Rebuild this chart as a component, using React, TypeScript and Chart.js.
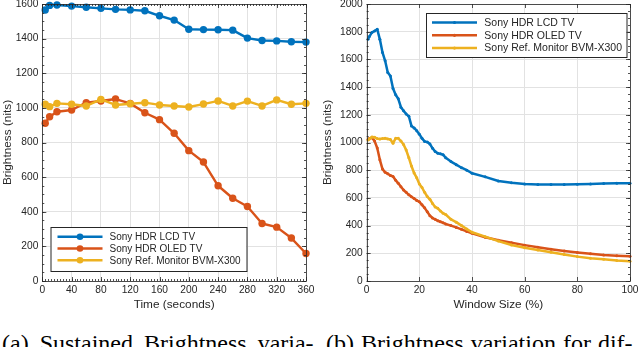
import React, { useEffect, useRef } from "react";
import { Chart, registerables } from "chart.js";

Chart.register(...registerables);

// ---------- data ----------
const seriesLabels = ["Sony HDR LCD TV", "Sony HDR OLED TV", "Sony Ref. Monitor BVM-X300"];
const seriesColors = ["#0072BD", "#D95319", "#EDB120"];

// (a) sustained brightness over time
const timeSec = [4, 10, 20, 40, 60, 80, 100, 120, 140, 160, 180, 200, 220, 240, 260, 280, 300, 320, 340, 360];
const lcdSustained = [1565, 1592, 1594, 1588, 1581, 1575, 1569, 1566, 1561, 1532, 1507, 1454, 1452, 1451, 1449, 1403, 1389, 1387, 1382, 1380];
const oledSustained = [911, 949, 978, 988, 1030, 1040, 1051, 1026, 972, 932, 853, 753, 687, 550, 478, 430, 332, 311, 248, 159];
const refSustained = [1021, 1007, 1026, 1021, 1011, 1049, 1017, 1024, 1030, 1017, 1011, 1005, 1022, 1040, 1011, 1039, 1011, 1046, 1021, 1026];

// (b) brightness vs window size
const windowPct = [0.5, 1, 2, 3, 4, 5, 6, 7, 8, 9, 10, 11, 12, 13, 14, 15, 16, 17, 18, 19, 20, 21, 22, 23, 24, 25, 26, 27, 28, 29, 30, 32, 34, 36, 38, 40, 45, 50, 55, 60, 65, 70, 75, 80, 85, 90, 95, 100];
const lcdWindow = [1745, 1765, 1795, 1805, 1818, 1745, 1650, 1590, 1505, 1480, 1390, 1345, 1315, 1255, 1230, 1205, 1190, 1120, 1105, 1085, 1060, 1030, 1008, 1003, 990, 958, 935, 922, 918, 912, 890, 862, 840, 818, 800, 778, 752, 722, 710, 701, 697, 696, 696, 698, 700, 704, 705, 705];
const oledWindow = [1022, 1028, 1035, 1010, 960, 875, 808, 785, 775, 762, 755, 728, 705, 680, 657, 640, 622, 608, 595, 582, 572, 550, 528, 500, 472, 455, 445, 435, 428, 420, 412, 400, 387, 373, 358, 345, 316, 294, 276, 259, 243, 229, 217, 206, 196, 188, 183, 178];
const refWindow = [1018, 1025, 1040, 1038, 1028, 1025, 1028, 1030, 1026, 1022, 995, 1030, 1030, 1010, 985, 945, 890, 830, 780, 745, 700, 675, 640, 610, 590, 560, 535, 525, 505, 490, 480, 445, 425, 400, 375, 352, 320, 288, 260, 240, 224, 207, 192, 176, 165, 157, 148, 142];

// tick labels
const timeTicks = [0, 40, 80, 120, 160, 200, 240, 280, 320, 360];
const brightnessTicksA = [0, 200, 400, 600, 800, 1000, 1200, 1400, 1600];
const windowTicks = [0, 20, 40, 60, 80, 100];
const brightnessTicksB = [0, 200, 400, 600, 800, 1000, 1200, 1400, 1600, 1800, 2000];

const AXIS_COLOR = "#262626";
const FONT = "'Liberation Sans', Arial, Helvetica, sans-serif";

// ---------- plugins ----------
const matlabAxes = {
  id: "matlabAxes",
  afterDatasetsDraw(chart: any, _args: any, o: any) {
    const { ctx, chartArea: a, scales } = chart;
    const xs = scales.x;
    const ys = scales.y;
    ctx.save();
    ctx.strokeStyle = AXIS_COLOR;
    ctx.lineWidth = 0.8;
    const seg = (x1: number, y1: number, x2: number, y2: number) => {
      ctx.beginPath();
      ctx.moveTo(x1, y1);
      ctx.lineTo(x2, y2);
      ctx.stroke();
    };
    const xTick = (v: number, len: number) => {
      const p = Math.round(xs.getPixelForValue(v)) + 0.5;
      seg(p, a.bottom, p, a.bottom - len);
      seg(p, a.top, p, a.top + len);
    };
    const yTick = (v: number, len: number) => {
      const p = Math.round(ys.getPixelForValue(v)) + 0.5;
      seg(a.left, p, a.left + len, p);
      seg(a.right, p, a.right - len, p);
    };
    if (o.xMinorStep) {
      for (let v = xs.min; v <= xs.max + 1e-9; v += o.xMinorStep) xTick(v, 2);
    }
    if (o.yMinorStep) {
      for (let v = ys.min; v <= ys.max + 1e-9; v += o.yMinorStep) yTick(v, 2);
    }
    xs.ticks.forEach((t: any) => xTick(t.value, 4));
    ys.ticks.forEach((t: any) => yTick(t.value, 4));
    ctx.strokeRect(Math.round(a.left) + 0.5, Math.round(a.top) + 0.5, Math.round(a.right - a.left), Math.round(a.bottom - a.top));
    ctx.restore();
  },
};

const boxLegend = {
  id: "boxLegend",
  afterDraw(chart: any, _args: any, o: any) {
    const ctx = chart.ctx;
    ctx.save();
    ctx.fillStyle = "#ffffff";
    ctx.fillRect(o.x, o.y, o.w, o.h);
    ctx.strokeStyle = AXIS_COLOR;
    ctx.lineWidth = 1;
    ctx.strokeRect(o.x + 0.5, o.y + 0.5, o.w, o.h);
    chart.data.datasets.forEach((ds: any, i: number) => {
      const cy = o.y + o.firstRow + i * o.rowH;
      ctx.strokeStyle = ds.borderColor;
      ctx.lineWidth = ds.borderWidth;
      ctx.beginPath();
      ctx.moveTo(o.x + o.lineX0, cy);
      ctx.lineTo(o.x + o.lineX1, cy);
      ctx.stroke();
      ctx.fillStyle = ds.borderColor;
      ctx.beginPath();
      ctx.arc(o.x + (o.lineX0 + o.lineX1) / 2, cy, o.markerR, 0, Math.PI * 2);
      ctx.fill();
      ctx.fillStyle = AXIS_COLOR;
      ctx.font = `${o.fontSize}px ${FONT}`;
      ctx.textBaseline = "middle";
      ctx.textAlign = "left";
      ctx.fillText(ds.label, o.x + o.textX, cy + 0.5);
    });
    ctx.restore();
  },
};

// ---------- chart builder ----------
function makeConfig(p: {
  xs: number[];
  series: number[][];
  xTicks: number[];
  yTicks: number[];
  xTitle: string;
  yWidth: number;
  rightPad: number;
  lineWidth: number;
  pointR: number;
  xMinorStep: number;
  yMinorStep: number;
  legend: any;
}) {
  const datasets = p.series.map((vals, i) => ({
    label: seriesLabels[i],
    data: vals.map((v, j) => ({ x: p.xs[j], y: v })),
    borderColor: seriesColors[i],
    backgroundColor: seriesColors[i],
    pointBackgroundColor: seriesColors[i],
    pointBorderColor: seriesColors[i],
    pointBorderWidth: 0,
    pointRadius: p.pointR,
    borderWidth: p.lineWidth,
    borderJoinStyle: "round",
    tension: 0,
    clip: false,
    order: 3 - i,
  }));
  const tickFont = { family: FONT, size: 10.2 };
  const titleFont = { family: FONT, size: 11.8 };
  return {
    type: "line",
    data: { datasets },
    plugins: [matlabAxes, boxLegend],
    options: {
      responsive: false,
      animation: false,
      devicePixelRatio: 1,
      layout: { padding: { left: 0, right: p.rightPad, top: 4, bottom: 0 } },
      plugins: {
        legend: { display: false },
        tooltip: { enabled: false },
        matlabAxes: { xMinorStep: p.xMinorStep, yMinorStep: p.yMinorStep },
        boxLegend: p.legend,
      },
      scales: {
        x: {
          type: "linear",
          min: p.xTicks[0],
          max: p.xTicks[p.xTicks.length - 1],
          afterBuildTicks: (s: any) => {
            s.ticks = p.xTicks.map((v) => ({ value: v }));
          },
          afterFit: (s: any) => {
            s.height = 39;
            s.paddingLeft = 0;
            s.paddingRight = 0;
          },
          ticks: {
            autoSkip: false,
            maxRotation: 0,
            padding: 3,
            color: AXIS_COLOR,
            font: tickFont,
            callback: (v: any) => String(v),
          },
          grid: { color: "#e2e2e2", lineWidth: 1, drawTicks: false },
          border: { display: false },
          title: {
            display: true,
            text: p.xTitle,
            color: AXIS_COLOR,
            font: titleFont,
            padding: { top: 0, bottom: 8 },
          },
        },
        y: {
          type: "linear",
          min: p.yTicks[0],
          max: p.yTicks[p.yTicks.length - 1],
          afterBuildTicks: (s: any) => {
            s.ticks = p.yTicks.map((v) => ({ value: v }));
          },
          afterFit: (s: any) => {
            s.width = p.yWidth;
            s.paddingTop = 0;
            s.paddingBottom = 0;
          },
          ticks: {
            autoSkip: false,
            padding: 4,
            color: AXIS_COLOR,
            font: tickFont,
            callback: (v: any) => String(v),
          },
          grid: { color: "#e2e2e2", lineWidth: 1, drawTicks: false },
          border: { display: false },
          title: {
            display: true,
            text: "Brightness (nits)",
            color: AXIS_COLOR,
            font: titleFont,
            padding: { top: 1, bottom: 0 },
          },
        },
      },
    },
  };
}

function ChartCanvas({ config, left }: { config: any; left: number }) {
  const ref = useRef<HTMLCanvasElement | null>(null);
  useEffect(() => {
    if (!ref.current) return;
    const chart = new Chart(ref.current, config);
    return () => chart.destroy();
  }, [config]);
  return (
    <canvas
      ref={ref}
      width={320}
      height={320}
      style={{ position: "absolute", left, top: 0, width: 320, height: 320 }}
    />
  );
}

const configA = makeConfig({
  xs: timeSec,
  series: [lcdSustained, oledSustained, refSustained],
  xTicks: timeTicks,
  yTicks: brightnessTicksA,
  xTitle: "Time (seconds)",
  yWidth: 42.3,
  rightPad: 14,
  lineWidth: 2.4,
  pointR: 3.7,
  xMinorStep: 4,
  yMinorStep: 50,
  legend: { x: 50.5, y: 227, w: 196, h: 44, firstRow: 9.7, rowH: 11.8, lineX0: 7, lineX1: 52, textX: 59, markerR: 3.3, fontSize: 10 },
});

const configB = makeConfig({
  xs: windowPct,
  series: [lcdWindow, oledWindow, refWindow],
  xTicks: windowTicks,
  yTicks: brightnessTicksB,
  xTitle: "Window Size (%)",
  yWidth: 46.7,
  rightPad: 10,
  lineWidth: 2.5,
  pointR: 1.5,
  xMinorStep: 0,
  yMinorStep: 50,
  legend: { x: 106, y: 13, w: 200.5, h: 44, firstRow: 9.5, rowH: 12.8, lineX0: 6, lineX1: 51, textX: 58.3, markerR: 1.6, fontSize: 10.5 },
});

const captionStyle: React.CSSProperties = {
  position: "absolute",
  top: 330.5,
  fontFamily: "'Liberation Serif', 'Times New Roman', serif",
  fontSize: 24,
  lineHeight: "24px",
  whiteSpace: "nowrap",
  color: "#000",
};

export default function App() {
  return (
    <div
      style={{
        position: "fixed",
        left: 0,
        top: 0,
        width: 640,
        height: 347,
        background: "#fff",
        overflow: "hidden",
      }}
    >
      <ChartCanvas config={configA} left={0} />
      <ChartCanvas config={configB} left={320} />
      <div style={{ ...captionStyle, left: 2, wordSpacing: 5 }}>(a) Sustained Brightness varia-</div>
      <div style={{ ...captionStyle, left: 326, wordSpacing: 1 }}>(b) Brightness variation for dif-</div>
    </div>
  );
}
